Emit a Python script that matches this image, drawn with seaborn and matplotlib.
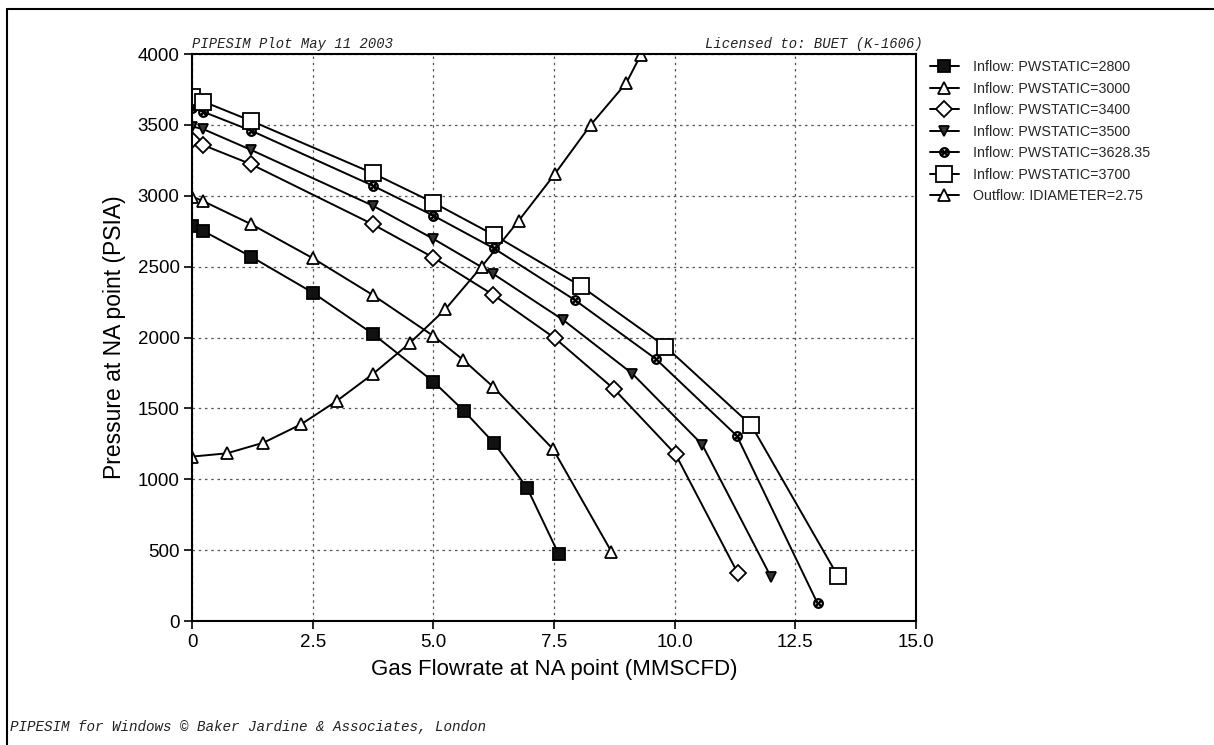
import matplotlib
matplotlib.use("Agg")
import matplotlib.pyplot as plt
from matplotlib.lines import Line2D
import seaborn as sns
import pandas as pd

# ---------------- data ----------------
x_2800 = [0.0, 0.23, 1.22, 2.5, 3.75, 5.0, 5.63, 6.25, 6.94, 7.6]
y_2800 = [2790, 2752, 2571, 2317, 2025, 1689, 1484, 1258, 941, 470]

x_3000 = [0.0, 0.22, 1.22, 2.5, 3.74, 5.0, 5.62, 6.24, 7.48, 8.69]
y_3000 = [2994, 2964, 2800, 2560, 2301, 2011, 1842, 1652, 1213, 489]

x_3400 = [0.0, 0.22, 1.22, 3.74, 5.0, 6.24, 7.52, 8.74, 10.02, 11.31]
y_3400 = [3394, 3359, 3223, 2800, 2564, 2301, 1995, 1638, 1176, 336]

x_3500 = [0.0, 0.22, 1.22, 3.74, 5.0, 6.24, 7.69, 9.12, 10.57, 12.0]
y_3500 = [3488, 3472, 3324, 2931, 2696, 2449, 2124, 1746, 1245, 308]

x_3628 = [0.0, 0.22, 1.22, 3.74, 5.0, 6.25, 7.93, 9.61, 11.29, 12.96]
y_3628 = [3622, 3594, 3460, 3072, 2860, 2630, 2265, 1849, 1306, 125]

x_3700 = [0.0, 0.23, 1.22, 3.74, 5.0, 6.25, 8.05, 9.81, 11.59, 13.38]
y_3700 = [3700, 3665, 3529, 3160, 2952, 2724, 2364, 1936, 1380, 318]

x_out = [0.0, 0.72, 1.48, 2.26, 3.0, 3.74, 4.51, 5.25, 6.0, 6.77, 7.52, 8.26, 9.0, 9.3]
y_out = [1160, 1183, 1258, 1388, 1553, 1741, 1960, 2200, 2500, 2825, 3155, 3500, 3797, 3995]

labels = ["Inflow: PWSTATIC=2800", "Inflow: PWSTATIC=3000", "Inflow: PWSTATIC=3400",
          "Inflow: PWSTATIC=3500", "Inflow: PWSTATIC=3628.35", "Inflow: PWSTATIC=3700",
          "Outflow: IDIAMETER=2.75"]

x_ticks = [0, 2.5, 5.0, 7.5, 10.0, 12.5, 15.0]
x_tick_labels = ["0", "2.5", "5.0", "7.5", "10.0", "12.5", "15.0"]
y_ticks = [0, 500, 1000, 1500, 2000, 2500, 3000, 3500, 4000]

# ---------------- style ----------------
sns.set_theme(style="white")
plt.rcParams["font.family"] = ["Liberation Sans", "DejaVu Sans"]

fig, ax = plt.subplots(figsize=(12.14, 7.45), dpi=100)
fig.subplots_adjust(left=0.1582, right=0.7545, bottom=0.1664, top=0.9275)

series = [
    (x_2800, y_2800, dict(marker="s", markersize=9, markerfacecolor="#111111")),
    (x_3000, y_3000, dict(marker="^", markersize=8, markerfacecolor="white")),
    (x_3400, y_3400, dict(marker="D", markersize=8, markerfacecolor="white")),
    (x_3500, y_3500, dict(marker="v", markersize=7.5, markerfacecolor="#333333")),
    (x_3628, y_3628, dict(marker="$\\otimes$", markersize=7, markerfacecolor="black")),
    (x_3700, y_3700, dict(marker="s", markersize=11, markerfacecolor="white")),
    (x_out, y_out, dict(marker="^", markersize=8, markerfacecolor="white")),
]

for (xs, ys, kw), lab in zip(series, labels):
    df = pd.DataFrame({"x": xs, "y": ys})
    mew = 0.8 if kw["marker"].startswith("$") else 1.3
    sns.lineplot(data=df, x="x", y="y", ax=ax, color="black", linewidth=1.4,
                 sort=False, estimator=None, markeredgecolor="black",
                 markeredgewidth=mew, label=lab, **kw)

ax.set_xlim(0, 15)
ax.set_ylim(0, 4000)
ax.set_xticks(x_ticks)
ax.set_xticklabels(x_tick_labels)
ax.set_yticks(y_ticks)
ax.tick_params(axis="both", which="major", labelsize=13.5, direction="out",
               length=6, width=1.2, color="black", labelcolor="black",
               left=True, bottom=True, pad=3)
ax.grid(True, color="#555555", linestyle=(0, (2, 3)), linewidth=0.9)
for sp in ax.spines.values():
    sp.set_visible(True)
    sp.set_color("black")
    sp.set_linewidth(1.5)

ax.set_xlabel("Gas Flowrate at NA point (MMSCFD)", fontsize=16, color="black", labelpad=6)
ax.set_ylabel("Pressure at NA point (PSIA)", fontsize=16.5, color="black", labelpad=8)

handles, labs = ax.get_legend_handles_labels()
ax.legend(handles, labs, loc="upper left", bbox_to_anchor=(0.766, 0.919),
          bbox_transform=fig.transFigure, frameon=False, fontsize=10.3,
          handlelength=2.0, handletextpad=1.0, labelspacing=0.52,
          borderpad=0, borderaxespad=0)

mono = dict(family=["Liberation Mono", "DejaVu Sans Mono"], style="italic", color="#222222")
ax.text(0.0, 1.006, "PIPESIM Plot May 11 2003", transform=ax.transAxes,
        ha="left", va="bottom", fontsize=10, **mono)
ax.text(1.01, 1.006, "Licensed to: BUET (K-1606)", transform=ax.transAxes,
        ha="right", va="bottom", fontsize=10, **mono)
fig.text(10 / 1214, 1 - 727 / 745, "PIPESIM for Windows \u00a9 Baker Jardine & Associates, London",
         ha="left", va="center", fontsize=10.3, **mono)

# page frame lines (top and left)
fig.add_artist(Line2D([7 / 1214, 1.0], [1 - 9 / 745, 1 - 9 / 745], transform=fig.transFigure,
                      color="black", linewidth=1.5))
fig.add_artist(Line2D([7 / 1214, 7 / 1214], [0.0, 1 - 9 / 745], transform=fig.transFigure,
                      color="black", linewidth=1.5))

fig.savefig("out.png", dpi=100, facecolor="white")
